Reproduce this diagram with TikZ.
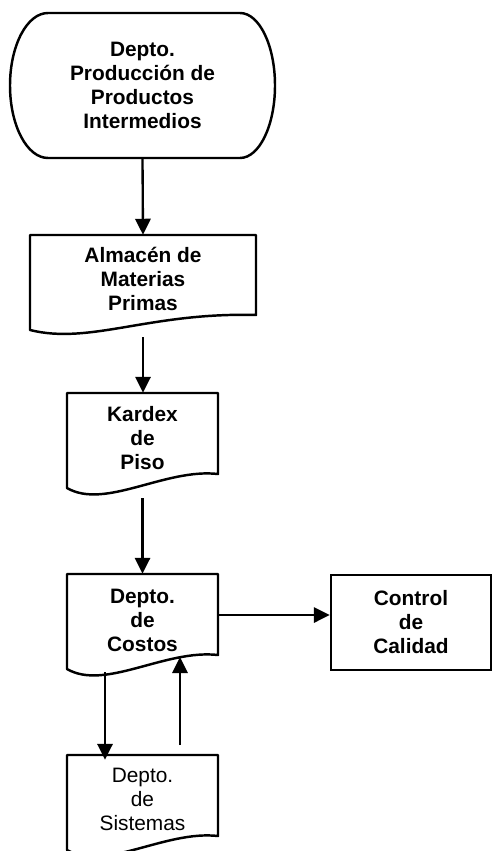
\documentclass[tikz,border=0pt]{standalone}
\usepackage{fontspec}
\setmainfont{Liberation Sans}
\usetikzlibrary{arrows.meta}
\begin{document}
\begin{tikzpicture}[x=0.03cm,y=-0.03cm,
  outline/.style={draw=black,line width=2.1pt,line join=round},
  label/.style={inner sep=0pt,align=center,font=\bfseries\fontsize{17.8}{20.5}\selectfont},
  plainlabel/.style={inner sep=0pt,align=center,font=\fontsize{17.8}{20.5}\selectfont},
  body/.style={rectangle,minimum width=151*0.03cm,minimum height=#1*0.03cm},
  flow/.style={draw=black,line width=2pt,-{Triangle[length=0.48cm,width=0.46cm]}}]
\useasboundingbox[fill=white] (0,0) rectangle (494,851);

% terminal: production department
\node[label,rectangle,minimum width=265*0.03cm,minimum height=145*0.03cm] (term) at (142.5,85.5)
  {Depto.\\Producción de\\Productos\\Intermedios};
\draw[outline] (48,13) -- (240,13)
  .. controls (259.3,13) and (275,45.5) .. (275,85.5)
  .. controls (275,125.5) and (259.3,158) .. (240,158)
  -- (48,158)
  .. controls (27,158) and (10,125.5) .. (10,85.5)
  .. controls (10,45.5) and (27,13) .. (48,13) -- cycle;

% document: raw materials store
\node[label,rectangle,minimum width=226*0.03cm,minimum height=88*0.03cm] (alm) at (143,279)
  {Almacén de\\Materias\\Primas};
\draw[outline] (30,330) -- (30,235) -- (256,235) -- (256,315)
  .. controls (150,312) and (90,345) .. (30,330) -- cycle;

% document: floor kardex
\node[label,body=90] (kar) at (142.5,438) {Kardex\\de\\Piso};
\draw[outline] (67,488) -- (67,393) -- (218,393) -- (218,474)
  .. controls (165,468) and (105,510) .. (67,488) -- cycle;

% document: cost department
\node[label,body=92] (cos) at (142.5,620) {Depto.\\de\\Costos};
\draw[outline] (67,669) -- (67,574) -- (218,574) -- (218,655)
  .. controls (165,649) and (105,691) .. (67,669) -- cycle;

% process: quality control
\node[label,draw=black,line width=2.1pt,rectangle,minimum width=160*0.03cm,minimum height=95*0.03cm] (cal) at (411,622.5)
  {Control\\de\\Calidad};

% document: systems department
\node[plainlabel,body=88] (sis) at (142.5,799) {Depto.\\de\\Sistemas};
\draw[outline] (67,850) -- (67,755) -- (218,755) -- (218,836)
  .. controls (165,830) and (105,872) .. (67,850) -- cycle;

% connector end points below the wavy edges
\coordinate (alm-out) at (143,337);
\coordinate (kar-out) at (142.5,498);
\coordinate (cos-out) at (105,672);
\coordinate (sis-out) at (180,745);
\coordinate (cos-in) at (180,657);

\draw[flow] (term.south) -- (alm.north);
\draw[flow] (alm-out) -- (kar.north -| alm-out);
\draw[flow] (kar-out) -- (cos.north);
\draw[flow] (cos.east |- 0,615) -- (cal.west |- 0,615);
\draw[flow] (cos-out) -- ([yshift=-0.15cm]sis.north -| cos-out);
\draw[flow] (sis-out) -- (cos-in);
\end{tikzpicture}
\end{document}
